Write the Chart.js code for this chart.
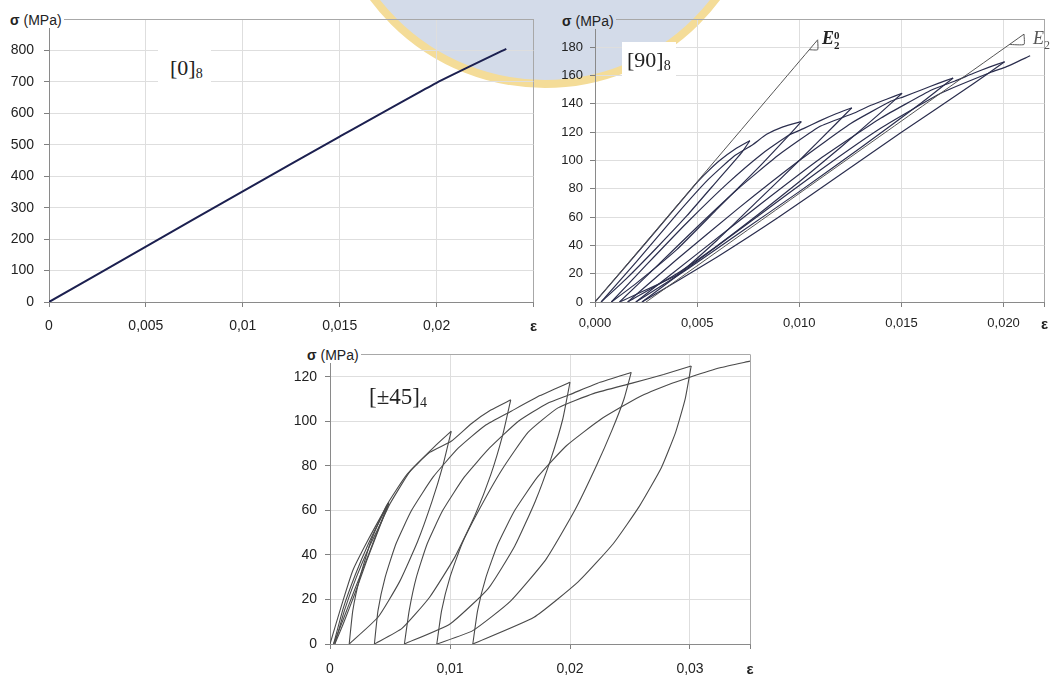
<!DOCTYPE html>
<html>
<head>
<meta charset="utf-8">
<script src="https://cdn.jsdelivr.net/npm/chart.js@4.4.0/dist/chart.umd.min.js"></script>
<style>
  body { margin: 0; background: #fff; }
  #page { position: relative; width: 1057px; height: 675px; overflow: hidden; font-family: "Liberation Sans", Arial, sans-serif; }
  canvas { position: absolute; z-index: 1; background: transparent; }
  .seal { position: absolute; left: 327px; top: -348px; width: 436px; height: 436px; border-radius: 50%;
          background: #d3dbe9; border: 8px solid #f4dc98; box-sizing: border-box; z-index: 0; }
  .lbl { position: absolute; z-index: 2; white-space: nowrap; color: #222; }
  .sig { font-size: 14px; line-height: 16px; padding: 0 2px; background: #fff; }
  .tag { font-family: "Liberation Serif", "DejaVu Serif", serif; font-size: 22px; line-height: 24px; background: #fff; }
  .tag sub { font-size: 14px; vertical-align: -3px; }
  .mod { font-family: "Liberation Serif", "DejaVu Serif", serif; font-size: 18px; line-height: 20px; font-style: italic; }
  .stack { display: inline-block; vertical-align: -5px; font-size: 11px; line-height: 10px; font-style: normal; font-weight: bold; }
</style>
</head>
<body>
<div id="page">
  <div class="seal"></div>
  <canvas id="c0" width="548" height="335" style="left:0;top:0"></canvas>
  <canvas id="c90" width="527" height="335" style="left:530px;top:0"></canvas>
  <canvas id="c45" width="500" height="337" style="left:270px;top:338px"></canvas>

  <div class="lbl sig" style="left:8px;top:12px"><b>σ</b> (MPa)</div>
  <div class="lbl tag" style="left:158px;top:48px;padding:8px 8px 8px 12px">[0]<sub>8</sub></div>

  <div class="lbl sig" style="left:560px;top:13px;background:#d3dbe9"><b>σ</b> (MPa)</div>
  <div class="lbl tag" style="left:622px;top:42px;padding:6px 5px">[90]<sub>8</sub></div>
  <div class="lbl mod" style="left:822px;top:28px;font-weight:bold">E<span class="stack">0<br>2</span></div>
  <div class="lbl mod" style="left:1033px;top:28px;color:#555">E<sub style="font-size:12px;font-style:normal">2</sub></div>

  <div class="lbl sig" style="left:305px;top:347px"><b>σ</b> (MPa)</div>
  <div class="lbl tag" style="left:365px;top:385px;padding:0 4px;font-size:23px">[±45]<sub>4</sub></div>
</div>

<script>
// [0]8 laminate
const strain0 = [0, 0.005, 0.01, 0.015, 0.02, 0.0236];
const stress0 = [0, 176, 352, 526, 697, 805];

// [90]8 laminate, paths as [strain, stress]
const lam90Tangent0 = [[0, 0], [0.0109, 185.3]];
const lam90Tri0 = [[0.01049, 178.3], [0.0109, 178.3], [0.0109, 185.3]];
const lam90Tangent = [[0.0025, 0], [0.0210, 189.3]];
const lam90Tri = [[0.02029, 182], [0.0210, 182], [0.0210, 189.3]];
const lam90Load = [[0, 0], [0.0025, 42], [0.0049, 83], [0.0055, 92], [0.0061, 100], [0.0069, 108.5], [0.00758, 114]];
const lam90Unload1 = [[0.00758, 114], [0.0072, 106], [0.0060, 86], [0.0045, 61], [0.0030, 38], [0.0015, 16], [0.0003, 0]];
const lam90Reload1 = [[0.0003, 0], [0.0020, 28], [0.0040, 62], [0.0055, 86], [0.0068, 103], [0.0077, 111], [0.0084, 118.5], [0.0092, 123.8], [0.0101, 127.5]];
const lam90Unload2 = [[0.0101, 127.5], [0.0095, 118], [0.0080, 95], [0.0060, 66], [0.0040, 37], [0.0020, 13], [0.0008, 0]];
const lam90Reload2 = [[0.0008, 0], [0.0025, 26], [0.0045, 56], [0.0065, 84], [0.0082, 105], [0.0095, 118], [0.0102, 122.5], [0.0110, 128], [0.0118, 133], [0.01257, 137.2]];
const lam90Unload3 = [[0.01257, 137.2], [0.0118, 126], [0.0100, 100], [0.0080, 72], [0.0060, 44], [0.0040, 19], [0.0012, 0]];
const lam90Reload3 = [[0.0012, 0], [0.0030, 25], [0.0050, 53], [0.0070, 80], [0.0090, 104], [0.0110, 124], [0.0126, 133], [0.0135, 139], [0.0143, 143.5], [0.01503, 147.5]];
const lam90Unload4 = [[0.01503, 147.5], [0.0140, 134], [0.0120, 109], [0.0100, 85], [0.0080, 62], [0.0060, 40], [0.0040, 20], [0.0016, 0]];
const lam90Reload4 = [[0.0016, 0], [0.0040, 30], [0.0070, 66], [0.0100, 100], [0.0125, 126], [0.0145, 142], [0.0151, 145], [0.0160, 150], [0.0168, 154.5], [0.01753, 158.3]];
const lam90Unload5 = [[0.01753, 158.3], [0.0160, 141], [0.0130, 109], [0.0100, 78], [0.0070, 48], [0.0045, 23], [0.0020, 0]];
const lam90Reload5 = [[0.0020, 0], [0.0050, 34], [0.0080, 68], [0.0110, 101], [0.0140, 130], [0.0165, 150], [0.0176, 156], [0.0185, 161.5], [0.0193, 166], [0.02005, 169.8]];
const lam90Unload6 = [[0.02005, 169.8], [0.0185, 154], [0.0150, 120], [0.0120, 90], [0.0090, 60], [0.0060, 32], [0.0023, 0]];
const lam90Reload6 = [[0.0023, 0], [0.0050, 29], [0.0080, 61], [0.0110, 93], [0.0140, 123], [0.0170, 148], [0.0195, 163], [0.0201, 166], [0.0213, 174]];

// [+-45]4 laminate
const lam45Load = [[0, 0], [0.0010, 18], [0.0019, 33], [0.0033, 48], [0.0049, 63.6]];
const lam45Unload0 = [[0.0049, 63.6], [0.0042, 54], [0.0032, 40], [0.0021, 25], [0.0011, 11], [0.0003, 0]];
const lam45Reload0 = [[0.0003, 0], [0.0011, 16], [0.0021, 31], [0.0032, 45], [0.0042, 56], [0.0049, 63]];
const lam45Unload0b = [[0.0049, 63], [0.0041, 52], [0.0031, 38], [0.0021, 23], [0.0011, 9], [0.0004, 0]];
const lam45Reload0b = [[0.0004, 0], [0.0012, 15], [0.0022, 30], [0.0033, 44], [0.0043, 55], [0.0050, 63], [0.0067, 77.7], [0.0089, 89.6], [0.0101, 95.5]];
const lam45Unload1 = [[0.0101, 95.5], [0.0094, 80], [0.0085, 64], [0.0073, 46], [0.0058, 28], [0.0040, 12], [0.0016, 0]];
const lam45Reload1 = [[0.0016, 0], [0.0019, 15], [0.0025, 30], [0.0034, 46], [0.0047, 62], [0.0064, 76], [0.0083, 86], [0.0101, 91], [0.0118, 99], [0.0134, 105], [0.01506, 109.6]];
const lam45Unload2 = [[0.01506, 109.6], [0.0144, 94], [0.0134, 76], [0.0121, 58], [0.0104, 39], [0.0083, 21], [0.0060, 7], [0.0037, 0]];
const lam45Reload2 = [[0.0037, 0], [0.0040, 15], [0.0046, 30], [0.0055, 45], [0.0068, 60], [0.0086, 75], [0.0107, 88], [0.0129, 98], [0.0151, 104.5], [0.0175, 111.5], [0.0200, 117.5]];
const lam45Unload3 = [[0.0200, 117.5], [0.0194, 101], [0.0184, 83], [0.0171, 64], [0.0154, 44], [0.0132, 25], [0.0100, 9], [0.0062, 0]];
const lam45Reload3 = [[0.0062, 0], [0.0066, 15], [0.0072, 30], [0.0081, 45], [0.0094, 60], [0.0112, 75], [0.0133, 88], [0.0157, 100], [0.0181, 108], [0.0200, 112], [0.0225, 117.5], [0.0251, 121.9]];
const lam45Unload4 = [[0.0251, 121.9], [0.0245, 110], [0.0235, 96], [0.0222, 80], [0.0204, 60], [0.0180, 38], [0.0150, 19], [0.0119, 6], [0.0089, 0]];
const lam45Reload4 = [[0.0089, 0], [0.0093, 15], [0.0100, 30], [0.0110, 45], [0.0124, 60], [0.0143, 78], [0.0165, 95], [0.0190, 106], [0.0220, 112.5], [0.0251, 117], [0.0278, 121], [0.0301, 124.8]];
const lam45Unload5 = [[0.0301, 124.8], [0.0296, 110], [0.0288, 95], [0.0276, 79], [0.0258, 62], [0.0236, 45], [0.0207, 28], [0.0170, 12], [0.0119, 0]];
const lam45Reload5 = [[0.0119, 0], [0.0123, 15], [0.0130, 30], [0.0140, 45], [0.0154, 60], [0.0173, 75], [0.0197, 89], [0.0226, 101], [0.0258, 111], [0.0285, 117], [0.0301, 120], [0.0325, 124], [0.0350, 127]];

// ticks
const xTicks0 = [0, 0.005, 0.01, 0.015, 0.02, 0.025];
const xLabels0 = ['0', '0,005', '0,01', '0,015', '0,02', 'ε'];
const yTicks0 = [0, 100, 200, 300, 400, 500, 600, 700, 800, 900];
const xTicks90 = [0, 0.005, 0.01, 0.015, 0.02, 0.022];
const xLabels90 = ['0,000', '0,005', '0,010', '0,015', '0,020', 'ε'];
const yTicks90 = [0, 20, 40, 60, 80, 100, 120, 140, 160, 180, 200];
const xTicks45 = [0, 0.01, 0.02, 0.03, 0.035];
const xLabels45 = ['0', '0,01', '0,02', '0,03', 'ε'];
const yTicks45 = [0, 20, 40, 60, 80, 100, 120, 130];

function lineSet(points, color, width) {
  return {
    data: points.map(p => ({ x: p[0], y: p[1] })),
    borderColor: color,
    borderWidth: width,
    pointRadius: 0,
    showLine: true,
    tension: 0.15,
    fill: false
  };
}

function buildChart(id, sets, sx, sy) {
  const lastX = sx.ticks.length - 1;
  const lastY = sy.ticks.length - 1;
  return new Chart(document.getElementById(id), {
    type: 'scatter',
    data: { datasets: sets },
    options: {
      responsive: false,
      animation: false,
      devicePixelRatio: 1,
      layout: { padding: { top: sy.padTop, right: sx.padRight, left: 0, bottom: 0 } },
      plugins: { legend: { display: false }, tooltip: { enabled: false } },
      scales: {
        x: {
          type: 'linear',
          min: sx.ticks[0],
          max: sx.ticks[lastX],
          afterBuildTicks: a => { a.ticks = sx.ticks.map(v => ({ value: v })); },
          afterFit: a => { a.height = sx.size; },
          grid: {
            color: c => c.index === lastX ? '#a8a8a8' : '#dedede',
            tickColor: '#808080',
            tickLength: 5
          },
          border: { color: '#8a8a8a' },
          ticks: {
            autoSkip: false,
            maxRotation: 0,
            padding: sx.labelPad,
            color: '#222',
            font: c => ({ family: 'Liberation Sans', size: c.index === lastX ? 15 : sx.font, weight: c.index === lastX ? 'bold' : 'normal' }),
            callback: (v, i) => sx.labels[i]
          }
        },
        y: {
          type: 'linear',
          min: sy.ticks[0],
          max: sy.ticks[lastY],
          afterBuildTicks: a => { a.ticks = sy.ticks.map(v => ({ value: v })); },
          afterFit: a => { a.width = sy.size; },
          grid: {
            color: c => c.index === lastY ? '#a8a8a8' : '#dedede',
            tickColor: '#808080',
            tickLength: 5
          },
          border: { color: '#8a8a8a' },
          ticks: {
            autoSkip: false,
            padding: sy.labelPad,
            color: '#222',
            font: { family: 'Liberation Sans', size: sy.font },
            callback: (v, i) => i === lastY ? '' : String(v)
          }
        }
      }
    }
  });
}

const navy = '#1c2050';
const dark = '#2b2e4e';
const grey = '#4a4a4a';
const thin = '#555555';

buildChart('c0',
  [lineSet(strain0.map((e, i) => [e, stress0[i]]), navy, 2)],
  { ticks: xTicks0, labels: xLabels0, size: 33, padRight: 11, labelPad: 11, font: 14 },
  { ticks: yTicks0, size: 49, padTop: 19, labelPad: 10, font: 14 });

buildChart('c90',
  [lam90Tangent0, lam90Tri0, lam90Tangent, lam90Tri].map(p => lineSet(p, thin, 1)).concat(
  [lam90Load, lam90Unload1, lam90Reload1, lam90Unload2, lam90Reload2, lam90Unload3, lam90Reload3,
   lam90Unload4, lam90Reload4, lam90Unload5, lam90Reload5, lam90Unload6, lam90Reload6].map(p => lineSet(p, dark, 1.2))),
  { ticks: xTicks90, labels: xLabels90, size: 33, padRight: 3, labelPad: 9, font: 13 },
  { ticks: yTicks90, size: 65, padTop: 19, labelPad: 7, font: 13 });

buildChart('c45',
  [lam45Load, lam45Unload0, lam45Reload0, lam45Unload0b, lam45Reload0b, lam45Unload1, lam45Reload1,
   lam45Unload2, lam45Reload2, lam45Unload3, lam45Reload3, lam45Unload4, lam45Reload4,
   lam45Unload5, lam45Reload5].map(p => lineSet(p, grey, 1.1)),
  { ticks: xTicks45, labels: xLabels45, size: 31, padRight: 20, labelPad: 12, font: 14 },
  { ticks: yTicks45, size: 60, padTop: 14, labelPad: 8, font: 14 });
</script>
</body>
</html>
